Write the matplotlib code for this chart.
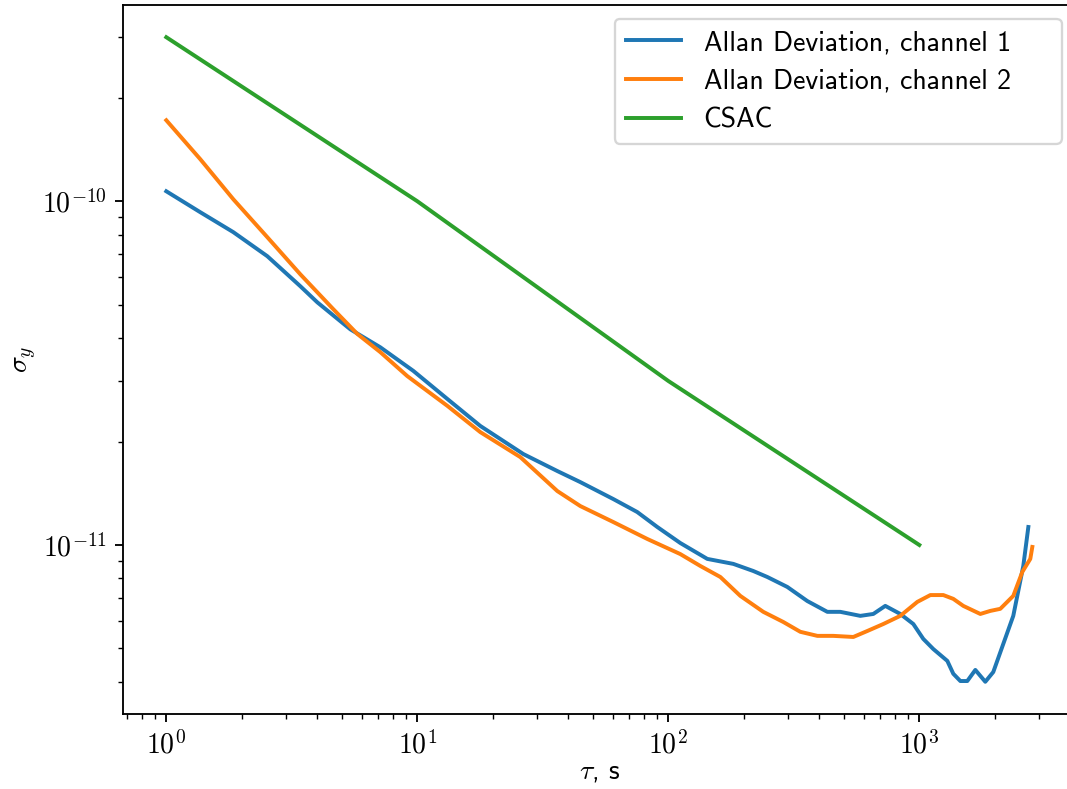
import matplotlib
matplotlib.use("Agg")
import matplotlib.pyplot as plt

plt.rcParams['font.family'] = 'cmr10'
plt.rcParams['mathtext.fontset'] = 'cm'
plt.rcParams['axes.formatter.use_mathtext'] = True
plt.rcParams['font.size'] = 12

# Allan deviation, channel 1
tau1 = [1, 1.366, 1.849, 2.526, 3.419, 3.997, 5.41, 7.12, 9.64, 13.17, 17.82,
        26.45, 36.13, 44.6, 60.4, 75.2, 90.4, 111.6, 143.0, 181.6, 218.1, 248.0,
        297.9, 357.9, 430.1, 484.4, 582.1, 655.7, 731.9, 840, 946.5, 1037.3,
        1137.3, 1293, 1366, 1457, 1553, 1672, 1832, 1971, 2368, 2596, 2719]
adev1 = [1.069e-10, 9.29e-11, 8.13e-11, 6.92e-11, 5.66e-11, 5.08e-11, 4.24e-11,
         3.76e-11, 3.21e-11, 2.66e-11, 2.22e-11, 1.839e-11, 1.641e-11, 1.524e-11,
         1.360e-11, 1.247e-11, 1.128e-11, 1.0134e-11, 9.11e-12, 8.81e-12, 8.40e-12,
         8.07e-12, 7.55e-12, 6.87e-12, 6.39e-12, 6.39e-12, 6.22e-12, 6.30e-12,
         6.65e-12, 6.30e-12, 5.89e-12, 5.33e-12, 4.98e-12, 4.60e-12, 4.22e-12,
         4.02e-12, 4.02e-12, 4.33e-12, 4.00e-12, 4.27e-12, 6.22e-12, 8.69e-12,
         1.128e-11]

# Allan deviation, channel 2
tau2 = [1, 1.366, 1.849, 2.526, 3.419, 4.63, 5.77, 7.12, 9.12, 13.17, 17.82,
        25.72, 36.13, 44.6, 60.4, 82.5, 111.6, 134.1, 161.2, 193.6, 239.0, 287.2,
        335.7, 392.5, 454.4, 545.9, 620.6, 718.9, 840, 981.9, 1106.6, 1246.5,
        1366, 1497, 1750, 1918, 2102, 2368, 2573, 2768, 2820]
adev2 = [1.720e-10, 1.325e-10, 1.0134e-10, 7.86e-11, 6.13e-11, 4.85e-11, 4.11e-11,
         3.64e-11, 3.10e-11, 2.54e-11, 2.13e-11, 1.802e-11, 1.435e-11, 1.298e-11,
         1.166e-11, 1.041e-11, 9.41e-12, 8.69e-12, 8.07e-12, 7.11e-12, 6.39e-12,
         5.97e-12, 5.59e-12, 5.44e-12, 5.44e-12, 5.40e-12, 5.62e-12, 5.89e-12,
         6.22e-12, 6.83e-12, 7.15e-12, 7.15e-12, 6.97e-12, 6.65e-12, 6.30e-12,
         6.43e-12, 6.52e-12, 7.11e-12, 8.35e-12, 9.11e-12, 9.87e-12]

# CSAC specification
tau_csac = [1, 10, 100, 1000]
adev_csac = [3e-10, 1e-10, 3e-11, 1e-11]

labels = ["Allan Deviation, channel 1", "Allan Deviation, channel 2", "CSAC"]

DPI = 1067 / 6.4
fig = plt.figure(figsize=(6.4, 789 / DPI), dpi=DPI)
ax = fig.add_axes([0.11528, 0.09506, 0.8928, 0.8986])

ax.loglog(tau1, adev1, label=labels[0], lw=1.7)
ax.loglog(tau2, adev2, label=labels[1], lw=1.7)
ax.loglog(tau_csac, adev_csac, label=labels[2], lw=1.7)

ax.set_xlabel(r'$\tau$, s', family='cmss10', labelpad=0)
ax.set_ylabel(r'$\sigma_y$', labelpad=1.5)
ax.legend(loc='upper right', prop={'family': 'cmss10'},
          bbox_to_anchor=(0.5016, 0.0, 0.4984, 1.0), mode='expand')

fig.savefig("out.png", dpi=DPI)
